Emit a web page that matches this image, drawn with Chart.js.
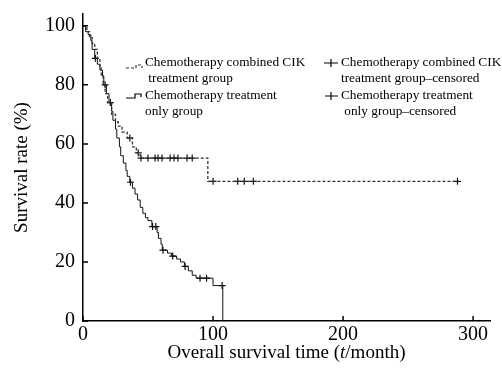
<!DOCTYPE html>
<html>
<head>
<meta charset="utf-8">
<script src="https://cdn.jsdelivr.net/npm/chart.js@4/dist/chart.umd.min.js"></script>
<style>
  body { margin: 0; background: #fff; }
  #wrap { width: 502px; height: 381px; }
</style>
</head>
<body>
<div id="wrap"><canvas id="km" width="502" height="381"></canvas></div>
<script>
// Kaplan-Meier steps (time in months, survival in %)
var combinedTime = [0, 3, 5, 7, 9, 11, 13, 14, 15.5, 17, 19, 22, 25, 27, 30, 34, 38, 41, 44, 96, 288];
var combinedSurv = [100, 98, 96, 94, 92, 89, 86, 83, 80, 77, 74, 70, 67.5, 66, 64, 62, 59, 57, 55.2, 47.3, 47.3];
var combinedCensTime = [36, 42.5, 44.6, 50, 55.4, 57.7, 60.8, 67, 70, 73, 80, 84, 100, 119, 124, 131, 288];
var combinedCensSurv = [62, 57, 55.2, 55.2, 55.2, 55.2, 55.2, 55.2, 55.2, 55.2, 55.2, 55.2, 47.3, 47.3, 47.3, 47.3, 47.3];

var chemoTime = [0, 2, 4, 6, 7, 9, 11, 13, 15, 16, 18, 20, 22, 23, 25, 26, 28, 29, 31, 33, 34, 36, 38, 40, 42, 44, 46, 48, 50, 53, 57, 58, 60, 61, 65, 68, 72, 75, 78, 81, 84, 87, 100, 107.5];
var chemoSurv = [100, 98, 97, 95, 92, 89, 87, 85, 83, 80, 77, 74, 71, 68, 65, 62, 59, 56, 53.5, 51, 49, 47, 45, 43, 41, 38.5, 36.5, 35, 34, 32, 30, 28, 26, 24, 23, 22, 21, 20, 18.5, 17, 15.5, 14.5, 12, 0];
var chemoCensTime = [9.5, 17, 21, 36.5, 53.5, 56, 61.5, 69, 78.5, 90, 95, 107];
var chemoCensSurv = [89, 80, 74, 47, 32, 32, 24, 22, 18.5, 14.5, 14.5, 12];

var xTicks = [0, 100, 200, 300];
var yTicks = [0, 20, 40, 60, 80, 100];

var legendLeft = [
  ["Chemotherapy combined CIK", " treatment group"],
  ["Chemotherapy treatment", "only group"]
];
var legendRight = [
  ["Chemotherapy combined CIK", "treatment group\u2013censored"],
  ["Chemotherapy treatment", " only group\u2013censored"]
];

function pts(xs, ys) {
  return xs.map(function (x, i) { return { x: x, y: ys[i] }; });
}

var serif = '"Liberation Serif", "Times New Roman", serif';

var extras = {
  id: 'extras',
  afterDraw: function (chart) {
    var ctx = chart.ctx;
    var xs = chart.scales.x, ys = chart.scales.y;
    var area = chart.chartArea;
    ctx.save();
    // inward tick marks
    ctx.strokeStyle = '#000';
    ctx.lineWidth = 1.5;
    ctx.beginPath();
    xTicks.forEach(function (v) {
      var p = xs.getPixelForValue(v);
      ctx.moveTo(p, area.bottom);
      ctx.lineTo(p, area.bottom - 5);
    });
    yTicks.forEach(function (v) {
      var p = ys.getPixelForValue(v);
      ctx.moveTo(area.left, p);
      ctx.lineTo(area.left + 5, p);
    });
    ctx.stroke();

    // x axis title with italic t
    var parts = [["Overall survival time (", ""], ["t", "italic "], ["/month)", ""]];
    var w = 0;
    parts.forEach(function (p) { ctx.font = p[1] + '19px ' + serif; p.push(ctx.measureText(p[0]).width); w += p[2]; });
    var tx = (area.left + area.right) / 2 - w / 2;
    ctx.fillStyle = '#000';
    ctx.textBaseline = 'middle';
    ctx.textAlign = 'left';
    parts.forEach(function (p) { ctx.font = p[1] + '19px ' + serif; ctx.fillText(p[0], tx, 353); tx += p[2]; });

    // legend
    ctx.font = '13.3px ' + serif;
    ctx.fillText(legendLeft[0][0], 145, 63);
    ctx.fillText(legendLeft[0][1], 145, 79);
    ctx.fillText(legendLeft[1][0], 145, 96);
    ctx.fillText(legendLeft[1][1], 145, 112);
    ctx.fillText(legendRight[0][0], 341, 63);
    ctx.fillText(legendRight[0][1], 341, 79);
    ctx.fillText(legendRight[1][0], 341, 96);
    ctx.fillText(legendRight[1][1], 341, 112);

    ctx.lineWidth = 1.2;
    ctx.setLineDash([3, 2]);
    ctx.strokeStyle = '#333';
    ctx.beginPath();
    ctx.moveTo(126, 68); ctx.lineTo(136, 68); ctx.lineTo(136, 65); ctx.lineTo(142, 65); ctx.lineTo(142, 68);
    ctx.stroke();
    ctx.setLineDash([]);
    ctx.strokeStyle = '#000';
    ctx.beginPath();
    ctx.moveTo(126, 98); ctx.lineTo(135, 98); ctx.lineTo(135, 94); ctx.lineTo(141, 94); ctx.lineTo(141, 97);
    ctx.stroke();
    ctx.beginPath();
    ctx.moveTo(324, 63); ctx.lineTo(338, 63); ctx.moveTo(331, 59); ctx.lineTo(331, 67);
    ctx.moveTo(325, 96); ctx.lineTo(338, 96); ctx.moveTo(331, 92); ctx.lineTo(331, 100);
    ctx.stroke();
    ctx.restore();
  }
};

new Chart(document.getElementById('km'), {
  type: 'line',
  data: {
    datasets: [
      {
        label: 'Chemotherapy combined CIK treatment group',
        data: pts(combinedTime, combinedSurv),
        stepped: 'before',
        borderColor: '#333',
        borderWidth: 1.3,
        borderDash: [3, 2],
        pointRadius: 0,
        fill: false
      },
      {
        label: 'Chemotherapy treatment only group',
        data: pts(chemoTime, chemoSurv),
        stepped: 'before',
        borderColor: '#111',
        borderWidth: 1,
        pointRadius: 0,
        fill: false
      },
      {
        label: 'Chemotherapy combined CIK treatment group-censored',
        type: 'scatter',
        data: pts(combinedCensTime, combinedCensSurv),
        pointStyle: 'cross',
        pointRadius: 3.5,
        borderColor: '#111',
        borderWidth: 1.2,
        showLine: false
      },
      {
        label: 'Chemotherapy treatment only group-censored',
        type: 'scatter',
        data: pts(chemoCensTime, chemoCensSurv),
        pointStyle: 'cross',
        pointRadius: 3.5,
        borderColor: '#111',
        borderWidth: 1.2,
        showLine: false
      }
    ]
  },
  options: {
    responsive: false,
    animation: false,
    layout: { padding: { top: 14, right: 12, left: 0, bottom: 0 } },
    plugins: { legend: { display: false }, tooltip: { enabled: false } },
    scales: {
      x: {
        type: 'linear',
        min: 0,
        max: 313,
        grid: { display: false, drawTicks: false },
        border: { display: true, color: '#000', width: 1.5 },
        ticks: { stepSize: 100, includeBounds: false, color: '#000', padding: 2, maxRotation: 0,
                 font: { family: serif, size: 20 } },
        afterFit: function (s) { s.height = 60; s.paddingLeft = 0; s.paddingRight = 0; }
      },
      y: {
        min: 0,
        max: 104,
        grid: { display: false, drawTicks: false },
        border: { display: true, color: '#000', width: 1.5 },
        ticks: { stepSize: 20, includeBounds: false, color: '#000', padding: 8,
                 font: { family: serif, size: 20 } },
        title: { display: true, text: 'Survival rate (%)', color: '#000', padding: { top: 11 },
                 font: { family: serif, size: 19 } },
        afterFit: function (s) { s.width = 83; s.paddingTop = 0; s.paddingBottom = 0; }
      }
    }
  },
  plugins: [extras]
});
</script>
</body>
</html>
